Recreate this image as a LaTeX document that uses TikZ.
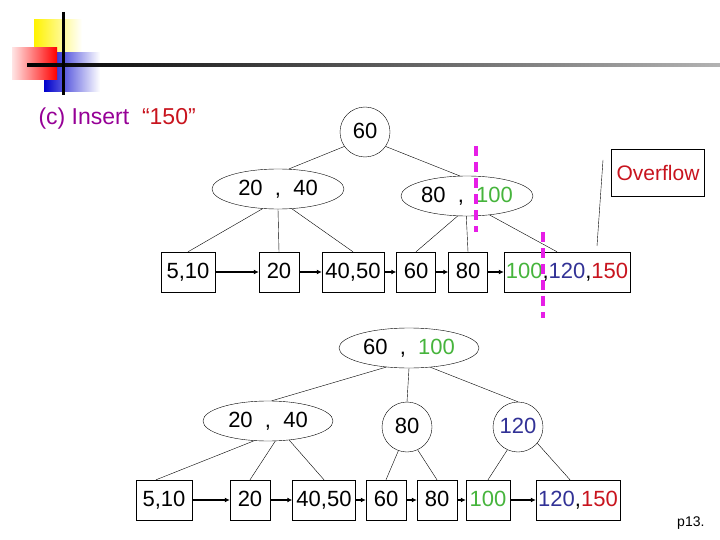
\documentclass[tikz,border=0pt]{standalone}
\usepackage{fontspec}
\setmainfont{Liberation Sans}
\usetikzlibrary{shapes.geometric,arrows.meta}
\definecolor{gr}{RGB}{70,180,60}
\definecolor{bl}{RGB}{50,50,150}
\definecolor{rd}{RGB}{200,20,30}
\definecolor{mg}{RGB}{230,30,230}
\definecolor{pu}{RGB}{150,0,150}
\tikzset{
  fnt/.style={font=\fontsize{22}{24}\selectfont,text height=16pt,text depth=3pt},
  leaf/.style={draw,thin,minimum height=40pt,inner sep=0pt,fnt},
  ell/.style={draw,thin,ellipse,minimum height=40pt,inner sep=0pt,fnt},
  circ/.style={draw,thin,circle,minimum size=50pt,inner sep=0pt,fnt},
  edge/.style={thin},
  nxt/.style={line width=1.3pt,-{Latex[length=5pt,width=5pt]}},
  cut/.style={mg,line width=3.5pt,dash pattern=on 10pt off 6pt}
}
\begin{document}
\begin{tikzpicture}[x=1pt,y=-1pt]
\useasboundingbox (0,0) rectangle (720,540);
% logo
\shade[left color=yellow!90!orange,right color=white] (34,20) rectangle (82,62);
\shade[left color=blue!80!black,right color=white] (44,53) rectangle (100,92);
\shade[left color=red!10,right color=red] (12,48) rectangle (57,80);
\shade[left color=black,right color=gray!60] (27,63.5) rectangle (720,66.5);
\draw[line width=3pt] (63,12) -- (63,95);
\node[anchor=west,font=\fontsize{23}{25}\selectfont,text=pu] (title) at (35,119) {(c) Insert\ \ \textcolor{rd}{“150”}};
% top tree
\node[circ] (r) at (365,132) {60};
\node[ell,minimum width=132pt] (a) at (278,189) {20 \ , \ 40};
\node[ell,minimum width=132pt] (b) at (467,196) {80 \ , \ \textcolor{gr}{100}};
\node[leaf,minimum width=54pt] (l1) at (188,272) {5,10};
\node[leaf,minimum width=40pt] (l2) at (279,272) {20};
\node[leaf,minimum width=62pt] (l3) at (353,272) {40,50};
\node[leaf,minimum width=39pt] (l4) at (416,272) {60};
\node[leaf,minimum width=39pt] (l5) at (468,272) {80};
\node[leaf,minimum width=126pt] (l6) at (567,272) {\textcolor{gr}{100},\textcolor{bl}{120},\textcolor{rd}{150}};
\node[draw,thin,minimum width=93pt,minimum height=47pt,text=rd,font=\fontsize{21}{23}\selectfont] (ov) at (658,173) {Overflow};
\coordinate (ovt) at (603,160);
\coordinate (ovp) at (597,246);
\draw[edge] (ovt) -- (ovp);
\draw[edge] (r.215) -- (a.62);
\draw[edge] (r.325) -- (b.110);
\draw[edge] (a.232) -- (l1.north);
\draw[edge] (a.270) -- (l2.north);
\draw[edge] (a.305) -- (l3.north);
\draw[edge] (b.245) -- (l4.north);
\draw[edge] (b.268) -- (l5.north);
\draw[edge] (b.320) -- ([xshift=-10pt]l6.north);
\draw[nxt] (l1) -- (l2);
\draw[nxt] (l2) -- (l3);
\draw[nxt] (l3) -- (l4);
\draw[nxt] (l4) -- (l5);
\draw[nxt] (l5) -- (l6);
\coordinate (c1a) at (476,146); \coordinate (c1b) at (476,232);
\coordinate (c2a) at (543,232); \coordinate (c2b) at (543,318);
\draw[cut] (c1a) -- (c1b);
\draw[cut] (c2a) -- (c2b);
% bottom tree
\node[ell,minimum width=140pt] (R) at (409,348) {60 \ , \ \textcolor{gr}{100}};
\node[ell,minimum width=130pt] (A) at (268,421) {20 \ , \ 40};
\node[circ] (B) at (407,427) {80};
\node[circ,text=bl] (C) at (518,427) {120};
\node[leaf,minimum width=56pt] (m1) at (164,500) {5,10};
\node[leaf,minimum width=40pt] (m2) at (250,500) {20};
\node[leaf,minimum width=63pt] (m3) at (324,500) {40,50};
\node[leaf,minimum width=40pt] (m4) at (386,500) {60};
\node[leaf,minimum width=40pt] (m5) at (437,500) {80};
\node[leaf,minimum width=44pt,text=gr] (m6) at (488,500) {100};
\node[leaf,minimum width=84pt] (m7) at (578,500) {\textcolor{bl}{120},\textcolor{rd}{150}};
\draw[edge] (R.220) -- (A.80);
\draw[edge] (R.270) -- (B.north);
\draw[edge] (R.318) -- (C.north);
\draw[edge] (A.235) -- ([xshift=-8pt]m1.north);
\draw[edge] (A.290) -- (m2.north);
\draw[edge] (A.318) -- (m3.north);
\draw[edge] (B.250) -- (m4.north);
\draw[edge] (B.295) -- (m5.north);
\draw[edge] (C.245) -- (m6.north);
\draw[edge] (C.320) -- ([xshift=-8pt]m7.north);
\draw[nxt] (m1) -- (m2);
\draw[nxt] (m2) -- (m3);
\draw[nxt] (m3) -- (m4);
\draw[nxt] (m4) -- (m5);
\draw[nxt] (m5) -- (m6);
\draw[nxt] (m6) -- (m7);
\node[anchor=east,font=\fontsize{14}{16}\selectfont] (pg) at (708,523) {p13.};
\end{tikzpicture}
\end{document}
